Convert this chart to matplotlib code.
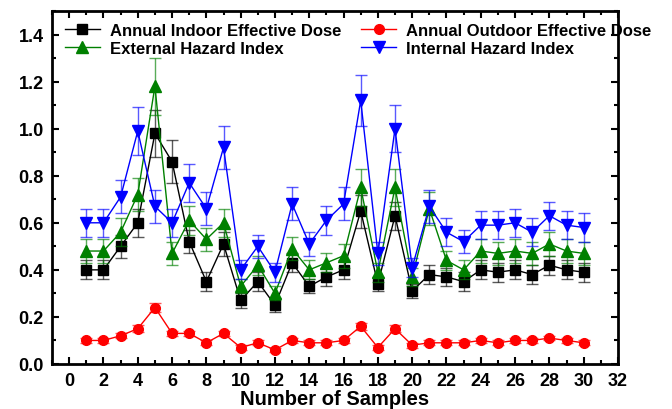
import matplotlib
matplotlib.use("Agg")
import matplotlib.pyplot as plt
from matplotlib.ticker import MultipleLocator

plt.rcParams['font.family'] = ['Liberation Sans', 'DejaVu Sans']
plt.rcParams['font.weight'] = 'bold'

samples = list(range(1, 31))

indoor = [0.40, 0.40, 0.50, 0.60, 0.98, 0.86, 0.52, 0.35, 0.51, 0.27,
          0.35, 0.25, 0.43, 0.33, 0.37, 0.40, 0.65, 0.34, 0.63, 0.31,
          0.38, 0.37, 0.35, 0.40, 0.39, 0.40, 0.38, 0.42, 0.40, 0.39]
indoor_err = [0.04, 0.04, 0.05, 0.06, 0.10, 0.09, 0.05, 0.04, 0.05, 0.03,
              0.04, 0.03, 0.04, 0.03, 0.04, 0.04, 0.07, 0.03, 0.06, 0.03,
              0.04, 0.04, 0.04, 0.04, 0.04, 0.04, 0.04, 0.04, 0.04, 0.04]

outdoor = [0.10, 0.10, 0.12, 0.15, 0.24, 0.13, 0.13, 0.09, 0.13, 0.07,
           0.09, 0.06, 0.10, 0.09, 0.09, 0.10, 0.16, 0.07, 0.15, 0.08,
           0.09, 0.09, 0.09, 0.10, 0.09, 0.10, 0.10, 0.11, 0.10, 0.09]
outdoor_err = [0.01, 0.01, 0.01, 0.015, 0.02, 0.01, 0.01, 0.01, 0.01, 0.01,
               0.01, 0.01, 0.01, 0.01, 0.01, 0.01, 0.015, 0.01, 0.015, 0.01,
               0.01, 0.01, 0.01, 0.01, 0.01, 0.01, 0.01, 0.01, 0.01, 0.01]

external = [0.48, 0.48, 0.56, 0.72, 1.18, 0.47, 0.61, 0.53, 0.60, 0.33,
            0.42, 0.30, 0.49, 0.40, 0.43, 0.46, 0.75, 0.39, 0.75, 0.37,
            0.66, 0.44, 0.40, 0.48, 0.47, 0.48, 0.47, 0.51, 0.48, 0.47]
external_err = [0.05, 0.05, 0.06, 0.07, 0.12, 0.05, 0.06, 0.05, 0.06, 0.03,
                0.04, 0.03, 0.05, 0.04, 0.04, 0.05, 0.08, 0.04, 0.08, 0.04,
                0.07, 0.04, 0.04, 0.05, 0.05, 0.05, 0.05, 0.05, 0.05, 0.05]

internal = [0.60, 0.60, 0.71, 0.99, 0.67, 0.60, 0.77, 0.66, 0.92, 0.40,
            0.50, 0.39, 0.68, 0.51, 0.61, 0.68, 1.12, 0.47, 1.00, 0.41,
            0.67, 0.56, 0.52, 0.59, 0.59, 0.60, 0.56, 0.63, 0.59, 0.58]
internal_err = [0.06, 0.06, 0.07, 0.10, 0.07, 0.06, 0.08, 0.07, 0.09, 0.04,
                0.05, 0.04, 0.07, 0.05, 0.06, 0.07, 0.11, 0.05, 0.10, 0.04,
                0.07, 0.06, 0.05, 0.06, 0.06, 0.06, 0.06, 0.06, 0.06, 0.06]

fig = plt.figure(figsize=(6.72, 4.10), dpi=100)
ax = fig.add_axes([0.0774, 0.1098, 0.8422, 0.8609])

series = [
    (indoor, indoor_err, 'black', 's', 6.5, 'Annual Indoor Effective Dose'),
    (outdoor, outdoor_err, 'red', 'o', 7, 'Annual Outdoor Effective Dose'),
    (external, external_err, 'green', '^', 8.5, 'External Hazard Index'),
    (internal, internal_err, 'blue', 'v', 8.5, 'Internal Hazard Index'),
]
handles = []
for vals, errs, col, mk, ms, lab in series:
    ax.errorbar(samples, vals, yerr=errs, fmt='none', ecolor=col,
                elinewidth=1, capsize=4, capthick=1, alpha=0.65)
    h, = ax.plot(samples, vals, color=col, marker=mk, markersize=ms,
                 linewidth=1, label=lab)
    handles.append(h)

ax.set_xlim(-1, 32)
ax.set_ylim(0, 1.5)
ax.xaxis.set_major_locator(MultipleLocator(2))
ax.xaxis.set_minor_locator(MultipleLocator(1))
ax.yaxis.set_minor_locator(MultipleLocator(0.1))
ax.set_yticks([0.0, 0.2, 0.4, 0.6, 0.8, 1.0, 1.2, 1.4])
ax.tick_params(which='both', direction='in', top=True, right=True, width=1.5)
ax.tick_params(which='major', length=5, labelsize=13, pad=6)
ax.tick_params(which='minor', length=3)
for s in ax.spines.values():
    s.set_linewidth(2)

ax.set_xlabel('Number of Samples', fontsize=14.5, fontweight='bold', labelpad=0)

order = [handles[0], handles[2], handles[1], handles[3]]
ax.legend(order, [h.get_label() for h in order], ncol=2, frameon=False,
          loc='upper left', bbox_to_anchor=(0.011, 0.985), fontsize=12,
          handlelength=2.1, handletextpad=0.6, columnspacing=1.2,
          labelspacing=0.2, borderaxespad=0.0)

fig.savefig('out.png', dpi=100)
